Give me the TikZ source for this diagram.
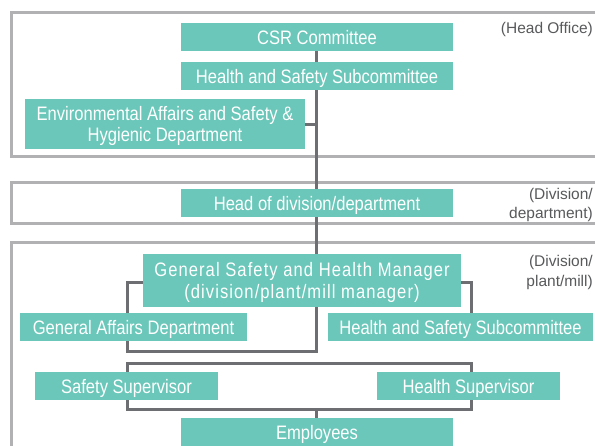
\documentclass[tikz,border=0pt]{standalone}
\usepackage{fontspec}
\setmainfont{Liberation Sans}
\newfontfamily\boxfont{Liberation Sans}[FakeStretch=0.85]
\newfontfamily\gsmfont{Liberation Sans}[FakeStretch=0.85,LetterSpace=5.5]
\definecolor{tealc}{HTML}{6AC7B9}
\definecolor{connc}{HTML}{6D6E71}
\definecolor{framec}{HTML}{B1B1B3}
\definecolor{labc}{HTML}{58595B}
\pgfdeclarelayer{frames}
\pgfdeclarelayer{lines}
\pgfsetlayers{frames,lines,main}
\tikzset{
  box/.style={fill=tealc, text=white, inner sep=0pt, text depth=0pt, align=center,
    font=\boxfont\fontsize{19.5}{21.3}\selectfont},
  gsmbox/.style={box, font=\gsmfont\fontsize{19.5}{21.7}\selectfont},
  conn/.style={draw=connc, line width=3pt},
  frame/.style={draw=framec, line width=3pt},
  lab/.style={text=labc, inner sep=0pt, text depth=0pt, align=right, anchor=east,
    font=\fontsize{15.5}{19.6}\selectfont}
}
\begin{document}
\begin{tikzpicture}[x=1pt,y=-1pt]
\useasboundingbox (0,0) rectangle (595,445);
% boxes
\node[box, minimum width=272pt, minimum height=28pt] (csr) at (317,37) {CSR Committee};
\node[box, minimum width=272pt, minimum height=28pt] (hss1) at (317,76) {Health and Safety Subcommittee};
\node[box, minimum width=280pt, minimum height=50pt] (env) at (165,124) {Environmental Affairs and Safety \&\\Hygienic Department};
\node[box, minimum width=272pt, minimum height=28pt] (hod) at (317,203) {Head of division/department};
\node[gsmbox, minimum width=318pt, minimum height=53pt] (gsm) at (302,280.5) {General Safety and Health Manager\\(division/plant/mill manager)};
\node[box, minimum width=227pt, minimum height=28pt] (gad) at (133.5,327) {General Affairs Department};
\node[box, minimum width=265pt, minimum height=28pt] (hss2) at (460.5,327) {Health and Safety Subcommittee};
\node[box, minimum width=183pt, minimum height=28pt] (ss) at (126.5,386) {Safety Supervisor};
\node[box, minimum width=183pt, minimum height=28pt] (hs) at (468.5,386) {Health Supervisor};
\node[box, minimum width=272pt, minimum height=28pt] (emp) at (317,432) {Employees};
% labels
\node[lab] (l1) at (593,27.5) {(Head Office)};
\node[lab] (l2) at (593,203.5) {(Division/\\department)};
\node[lab] (l3) at (593,271) {(Division/\\plant/mill)};
% frames
\begin{pgfonlayer}{frames}
\draw[frame] (11.5,12.5) rectangle (600,156);
\draw[frame] (11.5,182.5) rectangle (600,223);
\draw[frame] (11.5,242) rectangle (600,470);
\end{pgfonlayer}
% connectors
\coordinate (tk) at (316,0);
\coordinate (rx) at (471.7,0);
\coordinate (b1l) at (127.7,351.7);
\coordinate (b1r) at (316,351.7);
\coordinate (b2tl) at (127.7,363.7);
\coordinate (b2br) at (471.7,409);
\begin{pgfonlayer}{lines}
\draw[conn] (csr.south -| tk) -- (gsm.north -| tk);
\draw[conn] (env.east) -- (env.east -| tk);
\draw[conn] ([yshift=-1.8pt]gsm.west) -| (b1l) -- (b1r) -- (gsm.south -| tk);
\draw[conn] ([yshift=-1.8pt]gsm.east) -| (hss2.center -| rx);
\draw[conn] (b2tl) rectangle (b2br);
\draw[conn] (b2br -| tk) -- (emp.north -| tk);
\end{pgfonlayer}
\end{tikzpicture}
\end{document}
